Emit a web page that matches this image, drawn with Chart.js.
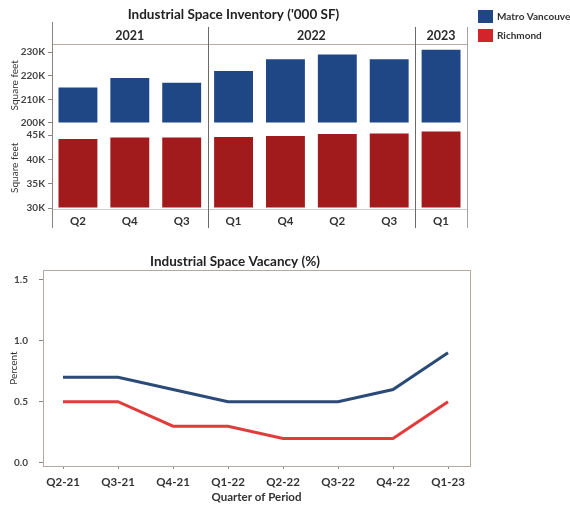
<!DOCTYPE html>
<html><head><meta charset="utf-8">
<script src="https://cdn.jsdelivr.net/npm/chart.js@4/dist/chart.umd.min.js"></script>
<style>
html,body{margin:0;padding:0;background:#fff;width:570px;height:508px;overflow:hidden}
.box{position:absolute;left:0}
</style></head><body>
<div class="box" style="top:0;width:570px;height:240px"><canvas id="c1" width="570" height="240"></canvas></div>
<div class="box" style="top:240px;width:570px;height:268px"><canvas id="c2" width="570" height="268"></canvas></div>
<script>
// ---- data ----
const quarters = ['Q2','Q4','Q3','Q1','Q4','Q2','Q3','Q1'];
const years = ['2021','2022','2023'];
const yearSpans = [3,4,1];
const metroInventory = [215,219,217,222,227,229,227,231];      // K sq ft
const richmondInventory = [44.2,44.5,44.5,44.6,44.8,45.2,45.3,45.7]; // K sq ft
const metroTicks = [200,210,220,230];
const richmondTicks = [30,35,40,45];
const seriesNames = ['Matro Vancouver','Richmond'];
const periods = ['Q2-21','Q3-21','Q4-21','Q1-22','Q2-22','Q3-22','Q4-22','Q1-23'];
const metroVacancy = [0.7,0.7,0.6,0.5,0.5,0.5,0.6,0.9];
const richmondVacancy = [0.5,0.5,0.3,0.3,0.2,0.2,0.2,0.5];
const vacancyTicks = [0,0.5,1.0,1.5];

const FONT = 'Lato, "Liberation Sans", sans-serif';
Chart.defaults.font.family = FONT;
Chart.defaults.color = '#3a3a3a';
const BLUE = '#1f4785', RED = '#a11b1d';
const AXIS = '#8c8480';

const topDecor = {
  id:'topDecor',
  afterDraw(chart){
    const ctx = chart.ctx, ca = chart.chartArea, x = chart.scales.x;
    ctx.save();
    ctx.lineWidth = 1;
    ctx.strokeStyle = '#b7aca6';
    ctx.beginPath(); ctx.moveTo(ca.left, ca.top+0.5); ctx.lineTo(ca.right, ca.top+0.5); ctx.stroke();
    ctx.strokeStyle = AXIS;
    ctx.beginPath(); ctx.moveTo(ca.left+0.5, 22); ctx.lineTo(ca.left+0.5, 228); ctx.stroke();
    ctx.strokeStyle = '#a8a09c';
    ctx.beginPath(); ctx.moveTo(ca.right+0.5, 27); ctx.lineTo(ca.right+0.5, 228); ctx.stroke();
    let s = 0;
    ctx.font = 'bold 12.5px ' + FONT;
    ctx.textAlign = 'center'; ctx.textBaseline = 'middle';
    years.forEach((yr, k) => {
      const e = s + yearSpans[k] - 1;
      const x0 = s === 0 ? ca.left : (x.getPixelForValue(s-1) + x.getPixelForValue(s)) / 2;
      const x1 = e === quarters.length-1 ? ca.right : (x.getPixelForValue(e) + x.getPixelForValue(e+1)) / 2;
      ctx.fillStyle = '#2a2a2a';
      ctx.fillText(yr, (x0 + x1) / 2, 36);
      if (e < quarters.length-1) {
        ctx.strokeStyle = '#6f6a68';
        ctx.beginPath(); ctx.moveTo(Math.round(x1)+0.5, 27); ctx.lineTo(Math.round(x1)+0.5, 228); ctx.stroke();
      }
      s = e + 1;
    });
    ctx.textAlign = 'left';
    ctx.font = 'bold 10px ' + FONT;
    const cols = [BLUE, '#d4242b'];
    seriesNames.forEach((n, i) => {
      const y = 10 + i * 19;
      ctx.fillStyle = cols[i]; ctx.fillRect(478, y, 15, 13);
      ctx.fillStyle = '#333'; ctx.fillText(n, 497, y + 7);
    });
    ctx.restore();
  }
};

new Chart(document.getElementById('c1'), {
  type: 'bar',
  data: { labels: quarters, datasets: [
    { label: seriesNames[0], data: metroInventory, yAxisID: 'yMetro', backgroundColor: BLUE,
      base: 200, grouped: false, barPercentage: 0.75, categoryPercentage: 1 },
    { label: seriesNames[1], data: richmondInventory, yAxisID: 'yRich', backgroundColor: RED,
      base: 30, grouped: false, barPercentage: 0.75, categoryPercentage: 1 }
  ]},
  options: {
    responsive: false, animation: false,
    layout: { padding: { top: 7, right: 103, left: 0, bottom: 0 } },
    plugins: {
      legend: { display: false }, tooltip: { enabled: false },
      title: { display: true, text: "Industrial Space Inventory ('000 SF)", color: '#222',
        font: { size: 13.5, weight: 'bold' }, padding: { top: 0, bottom: 20.8 } }
    },
    scales: {
      x: { grid: { display: false, drawTicks: false, tickLength: 0 }, border: { display: true, color: '#ccc' },
        ticks: { font: { size: 11.5, weight: 'bold' }, padding: 5, color: '#333' },
        afterFit(s){ s.height = 31; } },
      yRich: { type: 'linear', position: 'left', stack: 'inv', stackWeight: 1, min: 29.8, max: 46.75,
        afterBuildTicks(s){ s.ticks = richmondTicks.map(v => ({ value: v })); },
        ticks: { callback: v => v + 'K', font: { size: 10, weight: 'bold' }, padding: 3, color: '#444' },
        grid: { drawOnChartArea: false, tickLength: 4, color: AXIS }, border: { color: AXIS },
        title: { display: true, text: 'Square feet', font: { size: 10 }, padding: { top: 9 }, color: '#333' },
        afterFit(s){ s.width = 52; } },
      yMetro: { type: 'linear', position: 'left', stack: 'inv', stackWeight: 1, min: 198.5, max: 233.4,
        afterBuildTicks(s){ s.ticks = metroTicks.map(v => ({ value: v })); },
        ticks: { callback: v => v + 'K', font: { size: 10, weight: 'bold' }, padding: 3, color: '#444' },
        grid: { drawOnChartArea: false, tickLength: 4, color: AXIS }, border: { color: AXIS },
        title: { display: true, text: 'Square feet', font: { size: 10 }, padding: { top: 9 }, color: '#333' },
        afterFit(s){ s.width = 52; } }
    }
  },
  plugins: [topDecor]
});

const boxPlugin = {
  id:'boxPlugin',
  afterDraw(chart){
    const ctx = chart.ctx, ca = chart.chartArea;
    ctx.save();
    ctx.strokeStyle = '#b3a9a4'; ctx.lineWidth = 1;
    ctx.strokeRect(Math.round(ca.left)+0.5, Math.round(ca.top)+0.5, Math.round(ca.right-ca.left), Math.round(ca.bottom-ca.top));
    ctx.restore();
  }
};

new Chart(document.getElementById('c2'), {
  type: 'line',
  data: { datasets: [
    { label: seriesNames[0], data: metroVacancy.map((v, i) => ({ x: i, y: v })),
      borderColor: '#2b4a78', borderWidth: 3, pointRadius: 0, tension: 0 },
    { label: seriesNames[1], data: richmondVacancy.map((v, i) => ({ x: i, y: v })),
      borderColor: '#e23b3b', borderWidth: 3, pointRadius: 0, tension: 0 }
  ]},
  options: {
    responsive: false, animation: false,
    layout: { padding: { top: 14, right: 100, left: 0, bottom: 0 } },
    plugins: {
      legend: { display: false }, tooltip: { enabled: false },
      title: { display: true, text: 'Industrial Space Vacancy (%)', color: '#222',
        font: { size: 13.5, weight: 'bold' }, padding: { top: 0, bottom: 0 } }
    },
    scales: {
      x: { type: 'linear', min: -0.364, max: 7.4,
        afterBuildTicks(s){ s.ticks = periods.map((p, i) => ({ value: i })); },
        ticks: { callback: v => periods[v], font: { size: 11.5, weight: 'bold' }, padding: 6, autoSkip: false, maxRotation: 0, color: '#333' },
        grid: { drawOnChartArea: false, tickLength: 3, color: AXIS }, border: { color: '#b3a9a4' },
        title: { display: true, text: 'Quarter of Period', font: { size: 11.5, weight: 'bold' }, padding: { top: 0, bottom: 4 }, color: '#333' },
        afterFit(s){ s.height = 42; } },
      y: { min: -0.025, max: 1.575,
        afterBuildTicks(s){ s.ticks = vacancyTicks.map(v => ({ value: v })); },
        ticks: { callback: v => v.toFixed(1), font: { size: 10, weight: 'bold' }, padding: 11, color: '#444' },
        grid: { drawOnChartArea: false, tickLength: 4, color: AXIS }, border: { color: AXIS },
        title: { display: true, text: 'Percent', font: { size: 10 }, padding: { top: 8 }, color: '#333' },
        afterFit(s){ s.width = 43; } }
    }
  },
  plugins: [boxPlugin]
});
</script>
</body></html>
